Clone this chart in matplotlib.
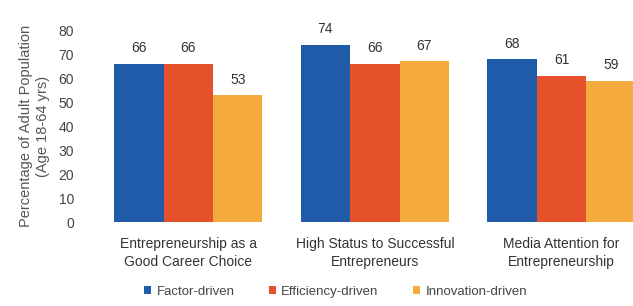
import matplotlib
matplotlib.use("Agg")
import matplotlib.pyplot as plt
import numpy as np

categories = ["Entrepreneurship as a\nGood Career Choice",
              "High Status to Successful\nEntrepreneurs",
              "Media Attention for\nEntrepreneurship"]
series_names = ["Factor-driven", "Efficiency-driven", "Innovation-driven"]
factor = [66, 74, 68]
efficiency = [66, 66, 61]
innovation = [53, 67, 59]
yticks = [0, 10, 20, 30, 40, 50, 60, 70, 80]
colors = ["#1F5BA8", "#E5512B", "#F4AA3C"]

plt.rcParams['font.family'] = ['Liberation Sans', 'DejaVu Sans']

fig = plt.figure(figsize=(6.33, 3.06), dpi=100)
ax = fig.add_axes([0.150, 0.2745, 0.855, 0.627])

x = np.arange(len(categories))
w = 0.265
for i, (vals, name, c) in enumerate(zip([factor, efficiency, innovation], series_names, colors)):
    pos = x + (i - 1) * w
    ax.bar(pos, vals, width=w, color=c, label=name)
    for p, v in zip(pos, vals):
        ax.text(p, v + 3.5, str(v), ha='center', va='bottom', fontsize=10,
                color='#333333', clip_on=False)

ax.set_xlim(-0.5, 2.4)
ax.set_ylim(0, 80)
ax.set_yticks(yticks)
ax.tick_params(axis='y', length=0, pad=15, labelsize=10, labelcolor='#444444')
ax.tick_params(axis='x', length=0, pad=11, labelsize=10, labelcolor='#333333')
ax.set_xticks(x)
ax.set_xticklabels(categories, linespacing=1.3)
for s in ax.spines.values():
    s.set_visible(False)

ax.set_ylabel("Percentage of Adult Population\n(Age 18-64 yrs)", fontsize=10.5,
              color='#555555', labelpad=6, linespacing=1.3)

leg = fig.legend(loc='center', bbox_to_anchor=(0.53, 0.047), ncol=3, frameon=False,
                 fontsize=9.5, handlelength=0.55, handleheight=0.55, handletextpad=0.4,
                 columnspacing=2.6)
for t in leg.get_texts():
    t.set_color('#444444')

fig.savefig("out.png", dpi=100)
